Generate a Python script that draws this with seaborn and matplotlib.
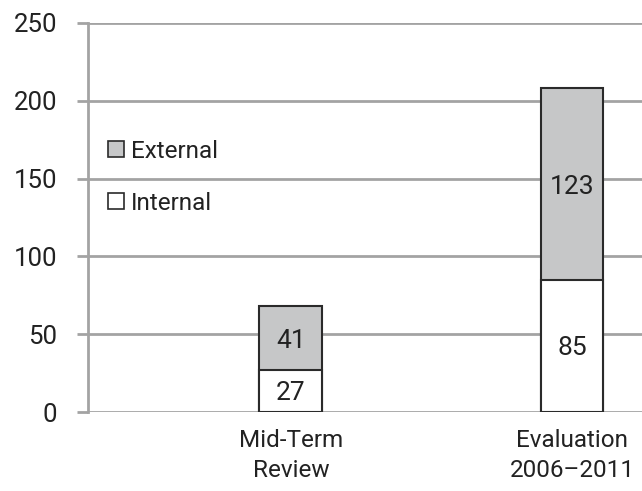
import matplotlib
matplotlib.use('Agg')
import matplotlib.pyplot as plt
from matplotlib.patches import Patch
import seaborn as sns
import pandas as pd

sns.set_style('white')
plt.rcParams['font.family'] = ['Roboto', 'DejaVu Sans']

categories = ['Mid-Term\nReview', 'Evaluation\n2006\u20132011']
internal = [27, 85]
external = [41, 123]
yticks = [0, 50, 100, 150, 200, 250]

df = pd.DataFrame({'cat': categories, 'internal': internal, 'external': external})
df['total'] = df['internal'] + df['external']

grey = '#c6c7c8'
edge = '#2a2a2a'
gridc = '#a3a3a3'
txt = '#222222'

fig = plt.figure(figsize=(6.42, 4.91), dpi=100)
ax = fig.add_axes([88 / 642, 1 - 412 / 491, 1 - 88 / 642, 389 / 491])

sns.barplot(data=df, x='cat', y='total', color=grey, edgecolor=edge, linewidth=1.5,
            width=0.224, saturation=1, ax=ax, zorder=3)
sns.barplot(data=df, x='cat', y='internal', color='white', edgecolor=edge, linewidth=1.5,
            width=0.224, saturation=1, ax=ax, zorder=4)

for i, row in df.iterrows():
    ax.text(i, row['internal'] / 2, str(row['internal']), ha='center', va='center_baseline',
            fontsize=19, color=txt, zorder=5)
    ax.text(i, row['internal'] + row['external'] / 2, str(row['external']), ha='center',
            va='center_baseline', fontsize=19, color=txt, zorder=5)

ax.set_xlim(-0.722, 1.249)
ax.set_ylim(0, 250)
ax.set_yticks(yticks)
ax.yaxis.grid(True, color=gridc, linewidth=2)
ax.set_axisbelow(True)
for s in ['top', 'right', 'bottom']:
    ax.spines[s].set_visible(False)
ax.spines['left'].set_color(gridc)
ax.spines['left'].set_linewidth(2)
ax.tick_params(axis='y', length=8, width=2, color=gridc, labelsize=18.5, labelcolor=txt, pad=14, left=True)
ax.tick_params(axis='x', length=0, labelsize=17.5, labelcolor=txt, pad=12)
for lbl in ax.get_xticklabels():
    lbl.set_linespacing(1.4)
ax.set_xlabel('')
ax.set_ylabel('')

handles = [Patch(facecolor=grey, edgecolor=edge, linewidth=1.2, label='External'),
           Patch(facecolor='white', edgecolor=edge, linewidth=1.2, label='Internal')]
ax.legend(handles=handles, loc='upper left', bbox_to_anchor=(0.036, 0.70), frameon=False,
          fontsize=17.5, handlelength=0.65, handleheight=0.65, handletextpad=0.3,
          labelspacing=1.2, borderpad=0, borderaxespad=0, labelcolor=txt)

fig.savefig('out.png', dpi=100)
